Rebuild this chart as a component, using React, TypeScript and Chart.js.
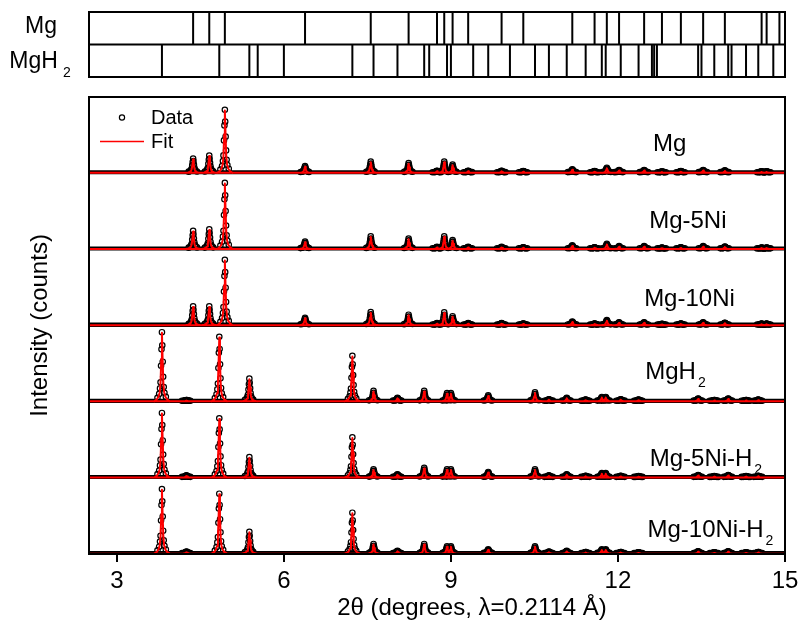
import React, { useEffect, useRef } from 'react';
import { Chart, registerables } from 'chart.js';

Chart.register(...registerables);

// ---------------- data ----------------
const X_MIN = 2.5;
const X_MAX = 15;
const X_TICKS = [3, 6, 9, 12, 15];

// reference reflection positions (2θ, degrees)
const REF_MG = [4.37, 4.66, 4.94, 6.38, 7.56, 8.24, 8.75, 8.88, 9.03, 9.31, 9.91, 10.3, 11.18, 11.58, 11.8, 12.02, 12.47, 12.79, 13.13, 13.53, 13.92, 14.58, 14.67, 14.9];
const REF_MGH2 = [3.81, 4.84, 5.38, 5.53, 6.0, 7.23, 7.61, 8.04, 8.52, 8.61, 8.93, 9.0, 9.4, 9.67, 10.06, 10.51, 10.76, 11.08, 11.42, 11.71, 11.78, 12.05, 12.37, 12.61, 12.65, 12.7, 13.44, 13.5, 13.73, 13.98, 14.04, 14.3, 14.52, 14.79];

// sample names (main text, subscript)
const SAMPLE_MAIN = ['Mg', 'Mg-5Ni', 'Mg-10Ni', 'MgH', 'Mg-5Ni-H', 'Mg-10Ni-H'];
const SAMPLE_SUB = ['', '', '', '2', '2', '2'];

// observed peak positions for the two families of patterns
const MG_PEAKS = [4.37, 4.66, 4.94, 6.38, 7.56, 8.24, 8.75, 8.88, 9.03, 9.31, 9.91, 10.3, 11.18, 11.58, 11.8, 12.02, 12.47, 12.79, 13.13, 13.53, 13.92, 14.58, 14.67];
const MGH2_PEAKS = [3.81, 4.25, 4.84, 5.38, 7.23, 7.61, 8.04, 8.52, 8.93, 9.0, 9.67, 10.51, 10.76, 11.08, 11.42, 11.71, 11.78, 12.05, 12.37, 13.44, 13.73, 13.98, 14.3, 14.52];

// peak heights (fraction of one panel height)
const H_MG = [0.18, 0.22, 0.82, 0.08, 0.14, 0.12, 0.02, 0.14, 0.1, 0.02, 0.02, 0.015, 0.04, 0.015, 0.06, 0.03, 0.03, 0.01, 0.015, 0.03, 0.025, 0.012, 0.012];
const H_MG5NI = [0.23, 0.25, 0.86, 0.09, 0.16, 0.13, 0.02, 0.16, 0.11, 0.02, 0.02, 0.015, 0.04, 0.015, 0.06, 0.03, 0.03, 0.01, 0.015, 0.03, 0.025, 0.012, 0.012];
const H_MG10NI = [0.24, 0.24, 0.85, 0.09, 0.165, 0.13, 0.02, 0.16, 0.11, 0.02, 0.02, 0.015, 0.04, 0.015, 0.06, 0.03, 0.03, 0.01, 0.015, 0.03, 0.025, 0.012, 0.012];
const H_MGH2 = [0.9, 0.01, 0.84, 0.29, 0.59, 0.13, 0.04, 0.13, 0.1, 0.1, 0.07, 0.11, 0.02, 0.04, 0.015, 0.05, 0.05, 0.02, 0.015, 0.03, 0.01, 0.03, 0.01, 0.015];
const H_MG5NIH2 = [0.84, 0.02, 0.77, 0.26, 0.52, 0.1, 0.035, 0.12, 0.1, 0.1, 0.065, 0.1, 0.02, 0.035, 0.015, 0.05, 0.05, 0.015, 0.01, 0.025, 0.01, 0.025, 0.01, 0.015];
const H_MG10NIH2 = [0.84, 0.02, 0.78, 0.28, 0.53, 0.12, 0.03, 0.12, 0.09, 0.09, 0.05, 0.09, 0.02, 0.03, 0.015, 0.05, 0.05, 0.015, 0.01, 0.025, 0.01, 0.025, 0.01, 0.015];

const PATTERN_POS = [MG_PEAKS, MG_PEAKS, MG_PEAKS, MGH2_PEAKS, MGH2_PEAKS, MGH2_PEAKS];
const PATTERN_H = [H_MG, H_MG5NI, H_MG10NI, H_MGH2, H_MG5NIH2, H_MG10NIH2];
const PATTERN_OFFSET = [5, 4, 3, 2, 1, 0];

// peak-shape template read from the tallest peaks (offset in degrees, fraction of height)
const FIT_DX = [-0.14, -0.09, -0.06, -0.04, -0.025, -0.012, 0, 0.012, 0.025, 0.04, 0.06, 0.09, 0.14];
const FIT_FRAC = [0, 0.03, 0.07, 0.13, 0.27, 0.62, 1, 0.62, 0.27, 0.13, 0.07, 0.03, 0];
const DATA_DX = [-0.08, -0.05, -0.035, -0.025, -0.016, -0.008, 0, 0.006, 0.014, 0.022, 0.032, 0.045, 0.07];
const DATA_FRAC = [0.043, 0.1, 0.18, 0.27, 0.51, 0.75, 1, 0.81, 0.57, 0.35, 0.2, 0.115, 0.057];

// ---------------- style / layout ----------------
const FONT = "'Liberation Sans', Arial, Helvetica, sans-serif";
const RED = '#ff0000';
const FIT_BASE = 0.004;
const DATA_BASE = 0.012;
const LABEL_X = [12.63, 12.56, 12.47, 12.49, 12.57, 12.53];
const LABEL_Y = [0.29, 0.28, 0.25, 0.3, 0.16, 0.22];

type P = { x: number; y: number | null };

function buildFit(pos: number[], h: number[], off: number): P[] {
  const pts: P[] = [
    { x: X_MIN, y: off + FIT_BASE },
    { x: X_MAX, y: off + FIT_BASE },
    { x: X_MAX, y: null },
  ];
  pos.forEach((p, i) => {
    FIT_DX.forEach((d, k) => pts.push({ x: p + d, y: off + FIT_BASE + h[i] * FIT_FRAC[k] }));
    pts.push({ x: p + FIT_DX[FIT_DX.length - 1], y: null });
  });
  return pts;
}

function buildData(pos: number[], h: number[], off: number): P[] {
  const pts: P[] = [];
  pos.forEach((p, i) => {
    DATA_DX.forEach((d, k) => pts.push({ x: p + d, y: off + DATA_BASE + h[i] * DATA_FRAC[k] }));
  });
  return pts;
}

function drawRich(
  ctx: CanvasRenderingContext2D,
  x: number,
  y: number,
  main: string,
  sub: string,
  size: number,
  subSize: number,
  gap: number,
  shift: number,
  align: 'left' | 'center'
) {
  ctx.font = `${size}px ${FONT}`;
  const w1 = ctx.measureText(main).width;
  ctx.font = `${subSize}px ${FONT}`;
  const w2 = sub ? ctx.measureText(sub).width + gap : 0;
  const x0 = align === 'center' ? x - (w1 + w2) / 2 : x;
  ctx.textAlign = 'left';
  ctx.textBaseline = 'alphabetic';
  ctx.fillStyle = '#000';
  ctx.font = `${size}px ${FONT}`;
  ctx.fillText(main, x0, y);
  if (sub) {
    ctx.font = `${subSize}px ${FONT}`;
    ctx.fillText(sub, x0 + w1 + gap, y + shift);
  }
}

const framePlugin = {
  id: 'frame',
  afterDraw(chart: any) {
    const { ctx, chartArea: a } = chart;
    ctx.save();
    ctx.strokeStyle = '#000';
    ctx.lineWidth = 2;
    ctx.strokeRect(a.left, a.top, a.right - a.left, a.bottom - a.top);
    ctx.restore();
  },
};

const mainText = {
  id: 'mainText',
  afterDraw(chart: any) {
    const { ctx, chartArea: a } = chart;
    const xs = chart.scales.x;
    const ys = chart.scales.y;
    ctx.save();
    // sample labels
    SAMPLE_MAIN.forEach((m, i) => {
      const px = xs.getPixelForValue(LABEL_X[i]);
      const py = ys.getPixelForValue(PATTERN_OFFSET[i] + LABEL_Y[i]);
      drawRich(ctx, px, py, m, SAMPLE_SUB[i], 24, 14, 2, 8, 'left');
    });
    // legend
    ctx.strokeStyle = '#000';
    ctx.lineWidth = 1.2;
    ctx.beginPath();
    ctx.arc(a.left + 33, a.top + 20.5, 2.6, 0, Math.PI * 2);
    ctx.stroke();
    ctx.strokeStyle = RED;
    ctx.lineWidth = 1.5;
    ctx.beginPath();
    ctx.moveTo(a.left + 11, a.top + 44.5);
    ctx.lineTo(a.left + 55, a.top + 44.5);
    ctx.stroke();
    ctx.fillStyle = '#000';
    ctx.font = `20px ${FONT}`;
    ctx.textAlign = 'left';
    ctx.textBaseline = 'middle';
    ctx.fillText('Data', a.left + 62, a.top + 21);
    ctx.fillText('Fit', a.left + 62, a.top + 45);
    // axis titles
    ctx.font = `24px ${FONT}`;
    ctx.textAlign = 'center';
    ctx.textBaseline = 'middle';
    ctx.fillText('2θ (degrees, λ=0.2114 Å)', 472, 608);
    ctx.translate(40, (a.top + a.bottom) / 2);
    ctx.rotate(-Math.PI / 2);
    ctx.fillText('Intensity (counts)', 0, 0);
    ctx.restore();
  },
};

const topText = {
  id: 'topText',
  afterDraw(chart: any) {
    const { ctx, chartArea: a } = chart;
    const ys = chart.scales.y;
    ctx.save();
    ctx.strokeStyle = '#000';
    ctx.lineWidth = 2;
    ctx.beginPath();
    ctx.moveTo(a.left, ys.getPixelForValue(1));
    ctx.lineTo(a.right, ys.getPixelForValue(1));
    ctx.stroke();
    drawRich(ctx, 41, 33, 'Mg', '', 23, 14, 5, 9, 'center');
    drawRich(ctx, 40, 68, 'MgH', '2', 23, 14, 5, 9, 'center');
    ctx.restore();
  },
};

export default function App() {
  const topRef = useRef<HTMLCanvasElement>(null);
  const mainRef = useRef<HTMLCanvasElement>(null);

  useEffect(() => {
    const tickData = (arr: number[], y0: number, y1: number): P[] =>
      arr.flatMap((x) => [
        { x, y: y0 },
        { x, y: y1 },
        { x, y: null },
      ]);

    const topChart = new Chart(topRef.current!, {
      type: 'line',
      data: {
        datasets: [
          { label: 'Mg', data: tickData(REF_MG, 1, 2) as any, borderColor: '#000', borderWidth: 2, pointRadius: 0 },
          { label: 'MgH2', data: tickData(REF_MGH2, 0, 1) as any, borderColor: '#000', borderWidth: 2, pointRadius: 0 },
        ],
      },
      options: {
        responsive: false,
        animation: false,
        events: [],
        layout: { padding: { left: 89, right: 13, top: 12, bottom: 13 } },
        plugins: { legend: { display: false }, tooltip: { enabled: false } },
        scales: {
          x: { type: 'linear', min: X_MIN, max: X_MAX, display: false },
          y: { type: 'linear', min: 0, max: 2, display: false },
        },
      },
      plugins: [framePlugin, topText],
    });

    const datasets: any[] = [];
    PATTERN_POS.forEach((pos, i) => {
      const off = PATTERN_OFFSET[i];
      const h = PATTERN_H[i];
      datasets.push({
        label: 'Fit',
        data: buildFit(pos, h, off),
        borderColor: RED,
        borderWidth: 2,
        borderJoinStyle: 'round',
        borderCapStyle: 'round',
        pointRadius: 0,
        order: 0,
      });
      datasets.push({
        label: 'Data',
        data: buildData(pos, h, off),
        showLine: false,
        pointRadius: 2.7,
        pointBorderWidth: 1.2,
        pointBorderColor: '#000',
        pointBackgroundColor: 'rgba(0,0,0,0)',
        order: 1,
      });
      datasets.push({
        label: 'DataBase',
        data: [
          { x: X_MIN, y: off + DATA_BASE },
          { x: X_MAX, y: off + DATA_BASE },
        ],
        borderColor: '#000',
        borderWidth: 4,
        pointRadius: 0,
        order: 2,
      });
    });

    const mainChart = new Chart(mainRef.current!, {
      type: 'line',
      data: { datasets },
      options: {
        responsive: false,
        animation: false,
        events: [],
        layout: { padding: { left: 89, right: 13, top: 97, bottom: 0 } },
        plugins: { legend: { display: false }, tooltip: { enabled: false } },
        scales: {
          x: {
            type: 'linear',
            min: X_MIN,
            max: X_MAX,
            afterBuildTicks: (s: any) => {
              s.ticks = X_TICKS.map((v) => ({ value: v }));
            },
            afterFit: (s: any) => {
              s.height = 66;
              s.paddingLeft = 0;
              s.paddingRight = 0;
            },
            ticks: {
              color: '#000',
              font: { family: FONT, size: 24 },
              padding: 5,
              maxRotation: 0,
              autoSkip: false,
            },
            grid: { drawOnChartArea: false, drawTicks: true, tickLength: 8, color: '#000', lineWidth: 2 },
            border: { display: true, color: '#000', width: 2 },
          },
          y: {
            type: 'linear',
            min: 0,
            max: 6,
            afterFit: (s: any) => {
              s.width = 0;
            },
            ticks: { display: false, stepSize: 1 },
            grid: { color: '#000', lineWidth: 2, drawTicks: false },
            border: { display: true, color: '#000', width: 2 },
          },
        },
      },
      plugins: [framePlugin, mainText],
    });

    return () => {
      topChart.destroy();
      mainChart.destroy();
    };
  }, []);

  return (
    <div style={{ position: 'absolute', left: 0, top: 0, width: 798, height: 620, background: '#fff' }}>
      <canvas ref={mainRef} width={798} height={620} style={{ position: 'absolute', left: 0, top: 0 }} />
      <canvas ref={topRef} width={798} height={90} style={{ position: 'absolute', left: 0, top: 0 }} />
    </div>
  );
}
